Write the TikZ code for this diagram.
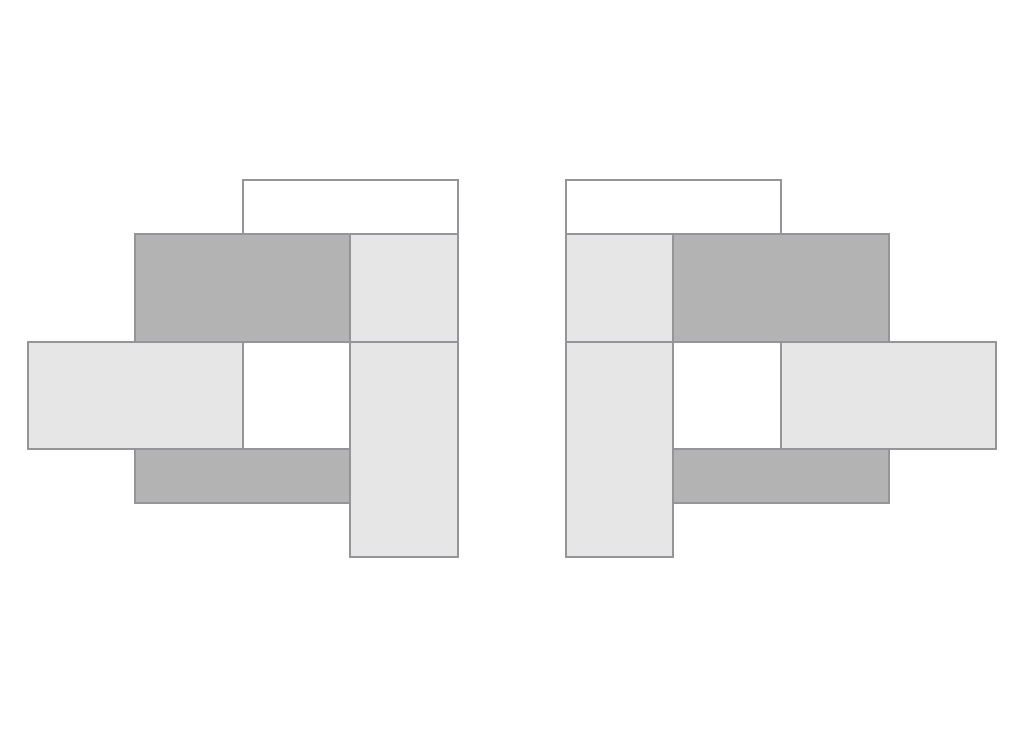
\documentclass[tikz,border=0pt]{standalone}
\usepackage{xcolor}
\definecolor{edge}{HTML}{939598}
\definecolor{darkfill}{HTML}{B3B3B3}
\definecolor{lightfill}{HTML}{E6E6E6}
\begin{document}
\begin{tikzpicture}[x=1pt,y=-1pt,
  piece/.style={draw=edge,line width=2pt,line join=miter},
  dk/.style={piece,fill=darkfill},
  lt/.style={piece,fill=lightfill},
  wh/.style={piece,fill=white}]
\useasboundingbox[fill=white] (0,0) rectangle (1024,738);
% left figure
\draw[wh] (243,180) rectangle (458,234);
\draw[dk] (135,234) rectangle (350,342);
\draw[lt] (350,234) rectangle (458,342);
\draw[lt] (28,342) rectangle (243,449);
\draw[dk] (135,449) rectangle (350,503);
\draw[lt] (350,342) rectangle (458,557);
% right figure
\draw[wh] (566,180) rectangle (781,234);
\draw[dk] (673,234) rectangle (889,342);
\draw[lt] (566,234) rectangle (673,342);
\draw[lt] (781,342) rectangle (996,449);
\draw[dk] (673,449) rectangle (889,503);
\draw[lt] (566,342) rectangle (673,557);
\end{tikzpicture}
\end{document}
